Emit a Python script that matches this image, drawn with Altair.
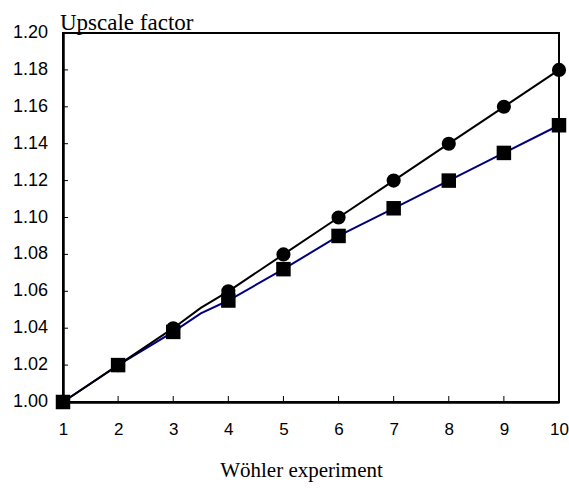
import altair as alt
import pandas as pd

# ---- data ----
x_vals = [1, 2, 3, 4, 5, 6, 7, 8, 9, 10]
circle_vals = [1.00, 1.02, 1.04, 1.06, 1.08, 1.10, 1.12, 1.14, 1.16, 1.18]
square_vals = [1.00, 1.02, 1.038, 1.055, 1.072, 1.09, 1.105, 1.12, 1.135, 1.15]

# line paths (a slight bend is visible between 3 and 4)
line_x = [1, 2, 3, 3.5, 4, 5, 6, 7, 8, 9, 10]
circle_line = [1.00, 1.02, 1.04, 1.051, 1.06, 1.08, 1.10, 1.12, 1.14, 1.16, 1.18]
square_line = [1.00, 1.02, 1.038, 1.048, 1.055, 1.072, 1.09, 1.105, 1.12, 1.135, 1.15]

y_ticks = [1.00, 1.02, 1.04, 1.06, 1.08, 1.10, 1.12, 1.14, 1.16, 1.18, 1.20]
y_labels = ["1.00", "1.02", "1.04", "1.06", "1.08", "1.10", "1.12", "1.14", "1.16", "1.18", "1.20"]
x_ticks = [1, 2, 3, 4, 5, 6, 7, 8, 9, 10]

pts = pd.DataFrame({"x": x_vals, "c": circle_vals, "s": square_vals})
lines = pd.DataFrame({"x": line_x, "c": circle_line, "s": square_line})
yt = pd.DataFrame({"y": y_ticks, "lab": y_labels})
xt = pd.DataFrame({"x": x_ticks})

W, H = 496, 369

xs = alt.Scale(domain=[1, 10], nice=False, zero=False)
ys = alt.Scale(domain=[1.0, 1.2], nice=False, zero=False)

xaxis = alt.Axis(values=x_ticks, format="d", labelFont="Liberation Sans", labelFontSize=17,
                 labelColor="black", labelPadding=19, tickSize=0, domainColor="black",
                 domainWidth=2.5, grid=False, title="Wöhler experiment",
                 titleFont="Liberation Serif", titleFontSize=21, titleFontWeight="normal",
                 titleColor="black", titlePadding=22, titleX=238, labelFlush=False,
                 labelOverlap=False)
yaxis = alt.Axis(values=y_ticks, labels=False, tickSize=0, domainColor="black",
                 domainWidth=2.5, grid=False, title=None)

ytick_rules = alt.Chart(yt).mark_rule(color="black", strokeWidth=1).encode(
    y=alt.Y("y:Q", scale=ys, axis=yaxis), x=alt.value(0), x2=alt.value(5))
ytick_labels = alt.Chart(yt).mark_text(
    font="Liberation Sans", fontSize=18, align="right", baseline="middle", color="black"
).encode(y=alt.Y("y:Q", scale=ys), x=alt.value(-15), text="lab:N")
xtick_rules = alt.Chart(xt).mark_rule(color="black", strokeWidth=1).encode(
    x=alt.X("x:Q", scale=xs, axis=xaxis), y=alt.value(H - 6), y2=alt.value(H))

line_sq = alt.Chart(lines).mark_line(color="#000080", strokeWidth=2).encode(
    x=alt.X("x:Q", scale=xs), y=alt.Y("s:Q", scale=ys))
line_c = alt.Chart(lines).mark_line(color="black", strokeWidth=2).encode(
    x=alt.X("x:Q", scale=xs), y=alt.Y("c:Q", scale=ys))

pt_sq = alt.Chart(pts).mark_point(shape="square", filled=True, color="black", size=210, opacity=1).encode(
    x=alt.X("x:Q", scale=xs), y=alt.Y("s:Q", scale=ys))
pt_c = alt.Chart(pts).mark_point(shape="circle", filled=True, color="black", size=200, opacity=1).encode(
    x=alt.X("x:Q", scale=xs), y=alt.Y("c:Q", scale=ys))

ytitle = alt.Chart(pd.DataFrame({"t": ["Upscale factor"]})).mark_text(
    font="Liberation Serif", fontSize=23, align="left", baseline="alphabetic", color="black"
).encode(text="t:N", x=alt.value(-3), y=alt.value(-3))

chart = alt.layer(ytick_rules, xtick_rules, ytick_labels, line_sq, line_c, pt_sq, pt_c, ytitle).properties(
    width=W, height=H,
    autosize=alt.AutoSizeParams(type="none"),
    padding={"left": 63, "top": 33, "right": 10, "bottom": 86},
    background="white",
).configure_view(stroke="black", strokeWidth=2)

chart.save("out.html", embed_options={"renderer": "svg", "actions": False})
